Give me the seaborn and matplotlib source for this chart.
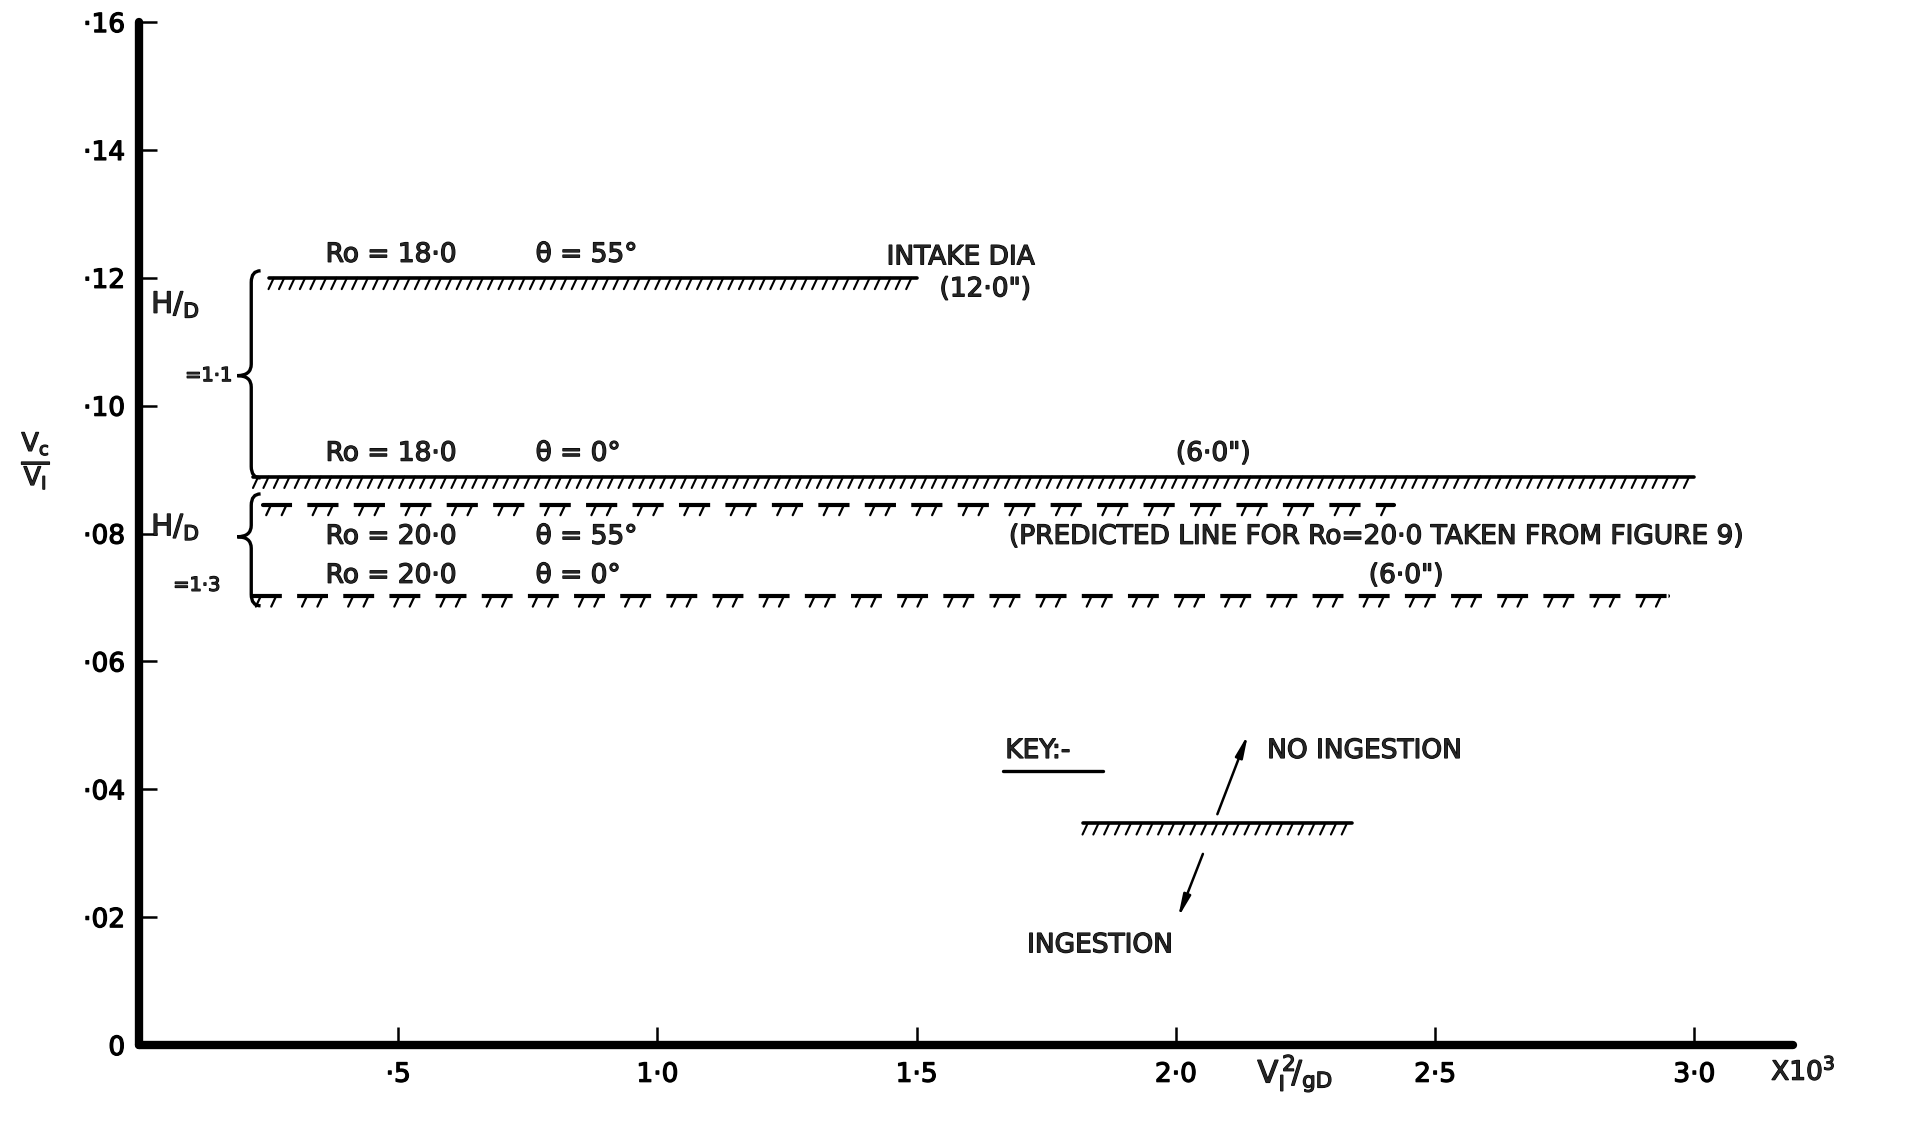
import numpy as np
import pandas as pd
import matplotlib
matplotlib.use("Agg")
import matplotlib.pyplot as plt
import seaborn as sns
from matplotlib import patheffects
from matplotlib.path import Path
from matplotlib.patches import PathPatch

# Boundary lines (V1^2/gD x10^3 range, Vc/V1 level)
ro_values = ["18·0", "18·0", "20·0", "20·0"]
theta_values = ["55°", "0°", "55°", "0°"]
line_x_start = [0.25, 0.22, 0.24, 0.22]
line_x_end = [1.50, 3.00, 2.42, 2.95]
line_y = [0.1200, 0.0889, 0.0845, 0.0702]
predicted = [False, False, True, True]

# key line
key_x = [1.82, 2.34]
key_y = [0.0347, 0.0347]

x_ticks = [0.5, 1.0, 1.5, 2.0, 2.5, 3.0]
x_ticklabels = ["·5", "1·0", "1·5", "2·0", "2·5", "3·0"]
y_ticks = [0, 0.02, 0.04, 0.06, 0.08, 0.10, 0.12, 0.14, 0.16]
y_ticklabels = ["0", "·02", "·04", "·06", "·08", "·10", "·12", "·14", "·16"]

XMAX = 3.19
FIG_W, FIG_H = 19.12, 11.26
AX_RECT = [0.0727, 0.0719, 0.865, 0.9085]

sns.set_style("white")
plt.rcParams["font.family"] = ["DejaVu Sans"]
plt.rcParams["lines.scale_dashes"] = False

fig = plt.figure(figsize=(FIG_W, FIG_H), dpi=100)
ax = fig.add_axes(AX_RECT)

DASH_SP = 11.0
hatch = [patheffects.withTickedStroke(spacing=7.5, angle=-115, length=1.2, linewidth=1.5)]
hatch_dash = [patheffects.withTickedStroke(spacing=DASH_SP, angle=-115, length=0.75, linewidth=1.6)]
bold = [patheffects.withStroke(linewidth=0.9, foreground="black")]


def gap_pattern(x0, x1, sp=DASH_SP, gap=11.0, slant=1.75):
    # white gaps that remove every third hatch tick -> "77  77  77" look
    L = (x1 - x0) / XMAX * AX_RECT[2] * FIG_W * 72
    num = int(np.ceil(L / sp)) - 1
    d = (L - sp) / (num - 1)
    period = 3 * d
    c = sp / 2 + 2 * d - slant
    return ((-(c - gap / 2)) % period, (gap, period - gap))


for i in range(len(line_y)):
    df = pd.DataFrame({"x": [line_x_start[i], line_x_end[i]], "y": [line_y[i], line_y[i]]})
    if predicted[i]:
        sns.lineplot(data=df, x="x", y="y", ax=ax, color="black", lw=3.0,
                     path_effects=hatch_dash, zorder=2)
        ax.plot(df["x"], df["y"], color="white", lw=18, dash_capstyle="butt",
                linestyle=gap_pattern(line_x_start[i], line_x_end[i]), zorder=2.1)
    else:
        sns.lineplot(data=df, x="x", y="y", ax=ax, color="black", lw=2.6,
                     path_effects=hatch, zorder=3)

sns.lineplot(x=key_x, y=key_y, ax=ax, color="black", lw=2.6, path_effects=hatch, zorder=3)


def brace(ax, x, y_bot, y_top, y_tip, tip=0.027, hook=0.018, r=0.0018):
    verts = [(x + hook, y_top), (x, y_top), (x, y_top - r),
             (x, y_tip + r),
             (x, y_tip), (x - tip, y_tip),
             (x, y_tip), (x, y_tip - r),
             (x, y_bot + r),
             (x, y_bot), (x + hook, y_bot)]
    codes = [Path.MOVETO, Path.CURVE3, Path.CURVE3, Path.LINETO,
             Path.CURVE3, Path.CURVE3, Path.CURVE3, Path.CURVE3,
             Path.LINETO, Path.CURVE3, Path.CURVE3]
    ax.add_patch(PathPatch(Path(verts, codes), fill=False, lw=2.4, color="black", zorder=4))


brace(ax, 0.2165, 0.0887, 0.1211, 0.1047)
brace(ax, 0.2165, 0.0687, 0.0862, 0.0795)


def label(x, y, s, size=19, **kw):
    ax.text(x, y, s, fontsize=size, va="center", zorder=5, path_effects=bold, **kw)


label_y = [0.1236, 0.0925, 0.0795, 0.0734]
for i in range(len(line_y)):
    label(0.36, label_y[i], "Ro = " + ro_values[i])
    label(0.765, label_y[i], "θ = " + theta_values[i])

label(1.442, 0.1232, "INTAKE DIA")
label(1.544, 0.1182, '(12·0")')
label(2.0, 0.0925, '(6·0")')
label(2.372, 0.0734, '(6·0")')
label(1.678, 0.0795, "(PREDICTED LINE FOR Ro=20·0 TAKEN FROM FIGURE 9)")

label(0.0235, 0.1158, r"H/$_{\mathregular{D}}$", size=21)
label(0.089, 0.1047, "=1·1", size=14)
label(0.0235, 0.0810, r"H/$_{\mathregular{D}}$", size=21)
label(0.066, 0.0719, "=1·3", size=14)

# key
label(1.671, 0.0460, "KEY:-")
ax.plot([1.666, 1.859], [0.0428, 0.0428], color="black", lw=2.4)
label(2.176, 0.0460, "NO INGESTION")
label(1.713, 0.0156, "INGESTION")
arrow = dict(arrowstyle="-|>,head_length=1.3,head_width=0.22", color="black", lw=1.8)
ax.annotate("", xy=(2.141, 0.0490), xytext=(2.078, 0.0357), arrowprops=arrow)
ax.annotate("", xy=(2.002, 0.0195), xytext=(2.054, 0.0303), arrowprops=arrow)

# axes
ax.set_xlim(0, XMAX)
ax.set_ylim(0, 0.16)
ax.set_xticks(x_ticks)
ax.set_xticklabels(x_ticklabels)
ax.set_yticks(y_ticks)
ax.set_yticklabels(y_ticklabels)
ax.set(xlabel="", ylabel="")
ax.tick_params(axis="both", direction="in", length=13, width=1.8, color="black",
               labelsize=19, labelcolor="black", left=True, bottom=True)
ax.tick_params(axis="x", pad=12)
ax.tick_params(axis="y", pad=10)
for t in ax.get_xticklabels() + ax.get_yticklabels():
    t.set_path_effects(bold)
sns.despine(ax=ax)
for side in ["left", "bottom"]:
    ax.spines[side].set_linewidth(6)
    ax.spines[side].set_color("black")
    ax.spines[side].set_capstyle("round")

ax.text(-0.062, 0.0913, r"$\mathregular{\frac{V_c}{V_I}}$", fontsize=26, ha="center",
        va="center", transform=ax.get_yaxis_transform(), path_effects=bold)
ax.text(2.23, -0.028, r"$\mathregular{V_I^{\,2}\!/_{gD}}$", fontsize=22, ha="center",
        va="center", transform=ax.get_xaxis_transform(), path_effects=bold)
ax.text(3.21, -0.026, r"X10$^{3}$", fontsize=19, ha="center", va="center",
        transform=ax.get_xaxis_transform(), path_effects=bold)

fig.savefig("out.png", dpi=100)
